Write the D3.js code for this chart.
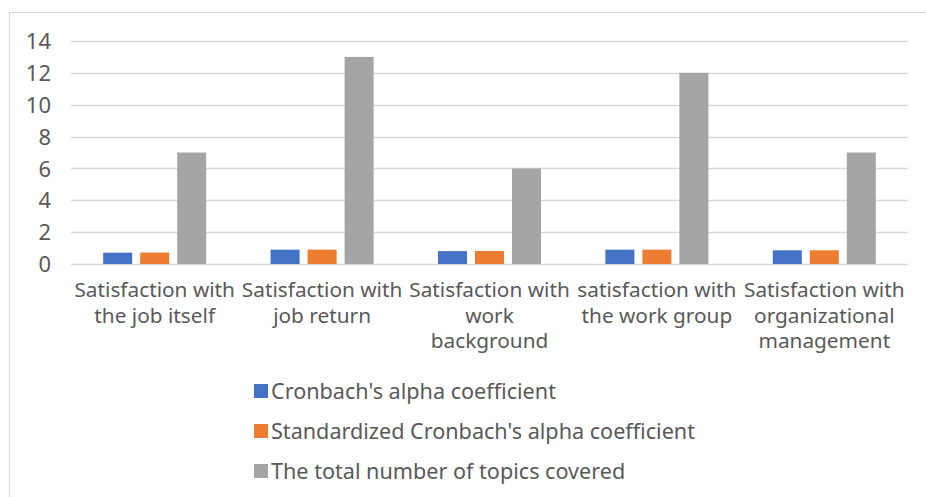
<!DOCTYPE html>
<html>
<head>
<meta charset="utf-8">
<script src="https://cdn.jsdelivr.net/npm/d3@7/dist/d3.min.js"></script>
<style>
  html, body { margin: 0; padding: 0; background: #fff; }
  svg { display: block; }
  text { font-family: "Noto Sans", "Open Sans", sans-serif; fill: #595959; }
</style>
</head>
<body>
<svg id="chart" width="926" height="497"></svg>
<script>
const categories = [
  ["Satisfaction with", "the job itself"],
  ["Satisfaction with", "job return"],
  ["Satisfaction with", "work", "background"],
  ["satisfaction with", "the work group"],
  ["Satisfaction with", "organizational", "management"]
];
const seriesNames = [
  "Cronbach's alpha coefficient",
  "Standardized Cronbach's alpha coefficient",
  "The total number of topics covered"
];
const cronbach = [0.71, 0.90, 0.81, 0.90, 0.86];
const standardized = [0.72, 0.90, 0.82, 0.90, 0.86];
const topics = [7, 13, 6, 12, 7];
const yTicks = [0, 2, 4, 6, 8, 10, 12, 14];
const colors = ["#4472C4", "#ED7D31", "#A5A5A5"];

const seriesValues = [cronbach, standardized, topics];
const svg = d3.select("#chart");
const FONT = '"Noto Sans", "Open Sans", sans-serif';

// outer chart border (extends past right/bottom of window)
svg.append("rect").attr("x", 9.5).attr("y", 12.5).attr("width", 930).attr("height", 500)
  .attr("fill", "none").attr("stroke", "#D9D9D9").attr("stroke-width", 1);

const plot = {left: 71, right: 908, top: 41, bottom: 264};
const catIdx = d3.range(categories.length);
const x0 = d3.scaleBand().domain(catIdx).range([plot.left, plot.right]).paddingInner(0).paddingOuter(0);
const x1 = d3.scaleBand().domain(d3.range(seriesNames.length)).range([0, x0.bandwidth()])
  .paddingInner(0.216).paddingOuter(0.87);
const y = d3.scaleLinear().domain([0, 14]).range([plot.bottom, plot.top]);

// gridlines
svg.append("g").selectAll("line").data(yTicks).join("line")
  .attr("x1", plot.left).attr("x2", plot.right)
  .attr("y1", d => Math.round(y(d)) + 0.5).attr("y2", d => Math.round(y(d)) + 0.5)
  .attr("stroke", "#D9D9D9").attr("stroke-width", 1.3);

// y axis labels
const yAxis = d3.axisLeft(y).tickValues(yTicks).tickSize(0).tickPadding(0);
const yg = svg.append("g").attr("transform", `translate(51,0)`).call(yAxis);
yg.select(".domain").remove();
yg.selectAll("text").attr("font-size", 22).attr("dy", "0.35em").style("fill", "#595959")
  .style("font-family", FONT);

// bars
const groups = svg.append("g").selectAll("g").data(catIdx).join("g")
  .attr("transform", i => `translate(${x0(i)},0)`);
groups.selectAll("rect").data(i => seriesValues.map((vals, s) => ({s, v: vals[i]}))).join("rect")
  .attr("x", d => x1(d.s)).attr("width", x1.bandwidth())
  .attr("y", d => y(d.v)).attr("height", d => y(0) - y(d.v))
  .attr("fill", d => colors[d.s]);

// category labels
const lab = svg.append("g").selectAll("text").data(catIdx).join("text")
  .attr("x", i => x0(i) + x0.bandwidth() / 2).attr("y", 297)
  .attr("text-anchor", "middle").attr("font-size", 20.8);
lab.selectAll("tspan").data(i => categories[i]).join("tspan")
  .attr("x", function() { return d3.select(this.parentNode).attr("x"); })
  .attr("dy", (d, k) => k === 0 ? 0 : 25.5).text(d => d);

// legend
const leg = svg.append("g").selectAll("g").data(seriesNames).join("g")
  .attr("transform", (d, k) => `translate(254,${391 + k * 40})`);
leg.append("rect").attr("x", 0).attr("y", -7).attr("width", 14).attr("height", 14)
  .attr("fill", (d, k) => colors[k]);
leg.append("text").attr("x", 17).attr("y", 0).attr("dy", "0.35em").attr("font-size", 21.6).text(d => d);
</script>
</body>
</html>
